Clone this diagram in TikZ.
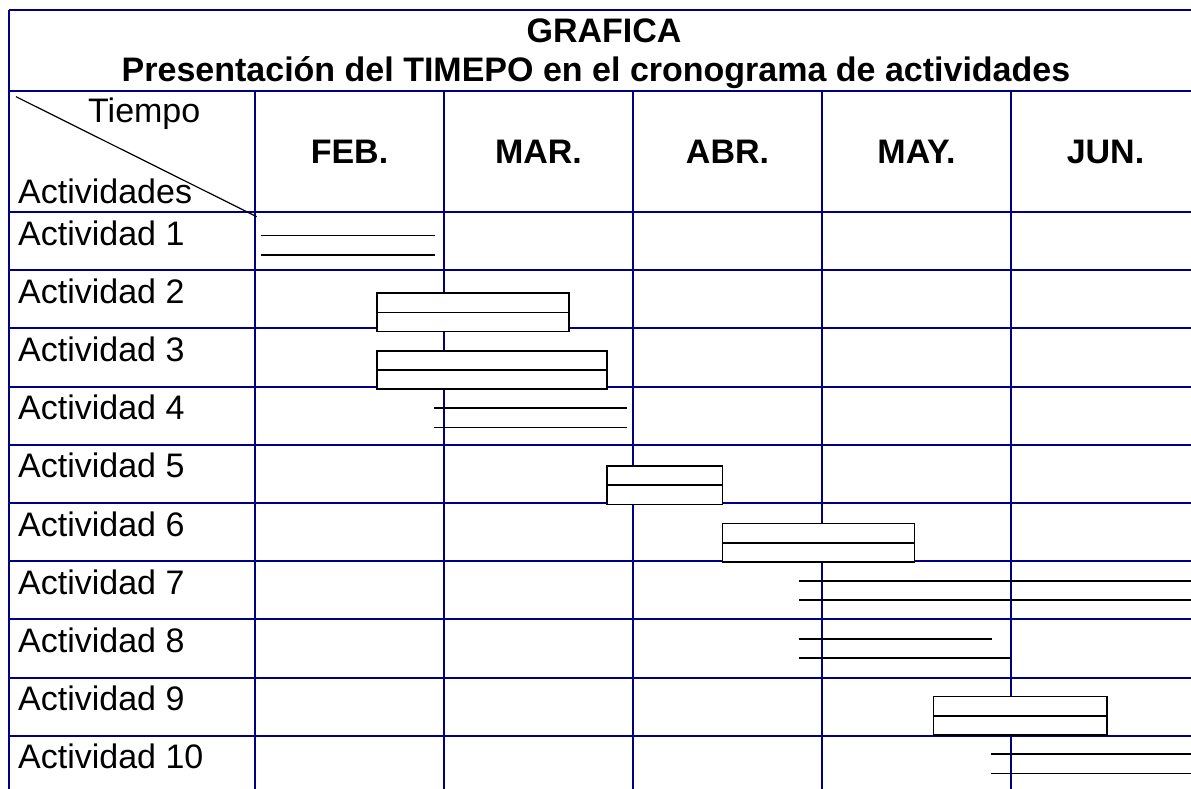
\documentclass[tikz,border=0pt]{standalone}
\usepackage{fontspec}
\setmainfont{Liberation Sans}
\definecolor{azul}{RGB}{0,0,128}

\begin{document}
\begin{tikzpicture}[x=1pt,y=-1pt,
  rejilla/.style={draw=azul, line width=2pt},
  barra/.style={draw=black, line width=1.6pt},
  texto/.style={anchor=base west, inner sep=0pt, font=\fontsize{34}{40}\selectfont},
  mes/.style={anchor=base, inner sep=0pt, font=\fontsize{34}{40}\selectfont\bfseries}]
\useasboundingbox (0,0) rectangle (1191,789);
\clip (0,0) rectangle (1191,789);
% rejilla de la tabla
\draw [rejilla] (9,10) -- (1200,10);
\draw [rejilla] (9,91) -- (1200,91);
\draw [rejilla] (9,212) -- (1200,212);
\draw [rejilla] (9,270.2) -- (1200,270.2);
\draw [rejilla] (9,328.4) -- (1200,328.4);
\draw [rejilla] (9,386.6) -- (1200,386.6);
\draw [rejilla] (9,444.8) -- (1200,444.8);
\draw [rejilla] (9,503) -- (1200,503);
\draw [rejilla] (9,561.2) -- (1200,561.2);
\draw [rejilla] (9,619.4) -- (1200,619.4);
\draw [rejilla] (9,677.6) -- (1200,677.6);
\draw [rejilla] (9,735.8) -- (1200,735.8);
\draw [rejilla] (9,10) -- (9,800);
\draw [rejilla] (255,91) -- (255,800);
\draw [rejilla] (444,91) -- (444,800);
\draw [rejilla] (633,91) -- (633,800);
\draw [rejilla] (822,91) -- (822,800);
\draw [rejilla] (1011,91) -- (1011,800);
% titulo
\node [mes] (titulo) at (604,42.7) {GRAFICA};
\node [mes] (subtitulo) at (596,81.7) {Presentación del TIMEPO en el cronograma de actividades};
% cabecera
\draw [line width=1.2pt] (16,96.7) -- (256.7,216.7);
\node [texto] (tiempo) at (88,123) {Tiempo};
\node [texto] (actividades) at (18,203) {Actividades};
\node [mes] (feb) at (349.5,163.5) {FEB.};
\node [mes] (mar) at (538.5,163.5) {MAR.};
\node [mes] (abr) at (727.5,163.5) {ABR.};
\node [mes] (may) at (916.5,163.5) {MAY.};
\node [mes] (jun) at (1105.5,163.5) {JUN.};
% actividades
\node [texto] (act1) at (18,245) {Actividad 1};
\node [texto] (act2) at (18,303.2) {Actividad 2};
\node [texto] (act3) at (18,361.4) {Actividad 3};
\node [texto] (act4) at (18,419.6) {Actividad 4};
\node [texto] (act5) at (18,477.8) {Actividad 5};
\node [texto] (act6) at (18,536) {Actividad 6};
\node [texto] (act7) at (18,594.2) {Actividad 7};
\node [texto] (act8) at (18,652.4) {Actividad 8};
\node [texto] (act9) at (18,710.6) {Actividad 9};
\node [texto] (act10) at (18,768.8) {Actividad 10};
% barras
\draw [barra] (261,235.3) -- (435,235.3);
\draw [barra] (261,254.7) -- (435,254.7);
\draw [barra, fill=white] (377,293) rectangle (569,331.3);
\draw [barra] (377,312.3) -- (569,312.3);
\draw [barra, fill=white] (377,350.7) rectangle (607,389);
\draw [barra] (377,370) -- (607,370);
\draw [barra] (434,408) -- (627,408);
\draw [barra] (434,427.3) -- (627,427.3);
\draw [barra, fill=white] (607,466) rectangle (722.5,504.3);
\draw [barra] (607,485) -- (722.5,485);
\draw [barra, fill=white] (722.5,523.3) rectangle (914.3,561.7);
\draw [barra] (722.5,542.7) -- (914.3,542.7);
\draw [barra] (798.7,581) -- (1200,581);
\draw [barra] (798.7,600) -- (1200,600);
\draw [barra] (798.7,638.7) -- (991.7,638.7);
\draw [barra] (798.7,657.7) -- (1011,657.7);
\draw [barra, fill=white] (933.3,696.3) rectangle (1106.7,734.7);
\draw [barra] (933.3,715.7) -- (1106.7,715.7);
\draw [barra] (990.7,754) -- (1200,754);
\draw [barra] (990.7,773.3) -- (1200,773.3);
\end{tikzpicture}
\end{document}
